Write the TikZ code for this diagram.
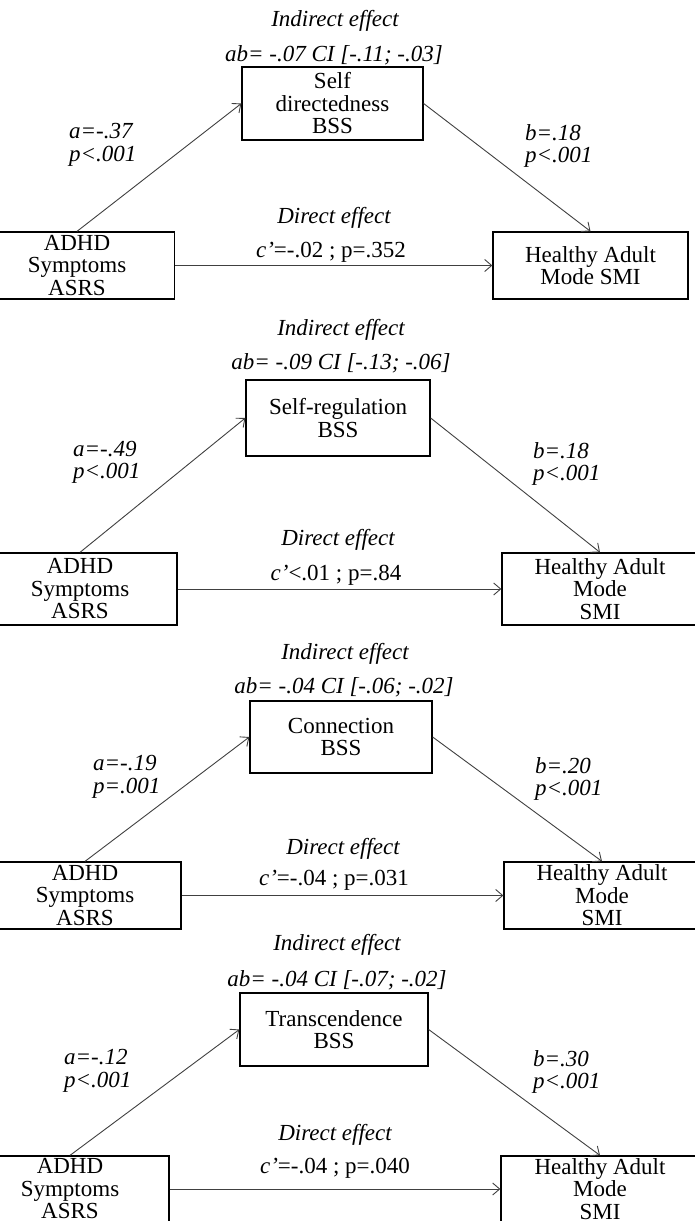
\documentclass[tikz,border=0pt]{standalone}
\usepackage{fontspec}
\setmainfont{Liberation Serif}
\usepackage{tikz}
\usetikzlibrary{arrows.meta}
\tikzset
{
  varbox/.style={draw=black,line width=1.3pt,align=center,inner sep=0pt,font=\fontsize{23}{22.5}\selectfont},
  coef/.style={anchor=west,align=left,inner sep=0pt,font=\fontsize{23}{22.5}\selectfont\itshape},
  efftext/.style={inner sep=0pt,font=\fontsize{23}{22.5}\selectfont\itshape},
  plaintext/.style={inner sep=0pt,font=\fontsize{23}{22.5}\selectfont},
  effect/.style={draw=black!75,line width=0.9pt,-{Straight Barb[length=7pt,width=12pt]}}
}

\begin{document}
\begin{tikzpicture}[x=1pt,y=-1pt]
        \useasboundingbox (0,0) rectangle (694,1221);

        % Panel 1: Self directedness
        \node[varbox,minimum width=195pt,minimum height=67pt] (adhd1) at (77,265.5) {ADHD\\Symptoms\\ASRS};
        \node[varbox,minimum width=181pt,minimum height=73pt] (med1) at (332.5,103.5) {Self\\directedness\\BSS};
        \node[varbox,minimum width=195pt,minimum height=67pt] (ham1) at (590.5,265.5) {Healthy Adult\\Mode SMI};
        \node[efftext] (ind1) at (335,21) {Indirect effect};
        \node[efftext] (ab1) at (334,55) {ab= -.07 CI [-.11; -.03]};
        \node[coef] (a1) at (69,145) {a=-.37\\p<.001};
        \node[coef] (b1) at (525,146) {b=.18\\p<.001};
        \node[efftext] (dir1) at (334,218) {Direct effect};
        \node[plaintext] (c1) at (331,252) {\textit{c'}=-.02 ; p=.352};
        \draw[effect] (adhd1.north) -- (med1.west);
        \draw[effect] (med1.east) -- (ham1.north);
        \draw[effect] (adhd1.east) -- (ham1.west);

        % Panel 2: Self-regulation
        \node[varbox,minimum width=194pt,minimum height=72pt] (adhd2) at (80,589) {ADHD\\Symptoms\\ASRS};
        \node[varbox,minimum width=184pt,minimum height=76pt] (med2) at (338,418) {Self-regulation\\BSS};
        \node[varbox,minimum width=196pt,minimum height=72pt] (ham2) at (600,589) {Healthy Adult\\Mode\\SMI};
        \node[efftext] (ind2) at (341,330) {Indirect effect};
        \node[efftext] (ab2) at (341,363) {ab= -.09 CI [-.13; -.06]};
        \node[coef] (a2) at (73,462.5) {a=-.49\\p<.001};
        \node[coef] (b2) at (533,464) {b=.18\\p<.001};
        \node[efftext] (dir2) at (338,540) {Direct effect};
        \node[plaintext] (c2) at (336,575) {\textit{c'}<.01 ; p=.84};
        \draw[effect] (adhd2.north) -- (med2.west);
        \draw[effect] (med2.east) -- (ham2.north);
        \draw[effect] (adhd2.east) -- (ham2.west);

        % Panel 3: Connection
        \node[varbox,minimum width=192pt,minimum height=67pt] (adhd3) at (85,895.5) {ADHD\\Symptoms\\ASRS};
        \node[varbox,minimum width=182pt,minimum height=72pt] (med3) at (341,737) {Connection\\BSS};
        \node[varbox,minimum width=196pt,minimum height=67pt] (ham3) at (602,895.5) {Healthy Adult\\Mode\\SMI};
        \node[efftext] (ind3) at (345,654) {Indirect effect};
        \node[efftext] (ab3) at (344,687) {ab= -.04 CI [-.06; -.02]};
        \node[coef] (a3) at (93,777) {a=-.19\\p=.001};
        \node[coef] (b3) at (535,779) {b=.20\\p<.001};
        \node[efftext] (dir3) at (343,849) {Direct effect};
        \node[plaintext] (c3) at (334,880) {\textit{c'}=-.04 ; p=.031};
        \draw[effect] (adhd3.north) -- (med3.west);
        \draw[effect] (med3.east) -- (ham3.north);
        \draw[effect] (adhd3.east) -- (ham3.west);

        % Panel 4: Transcendence
        \node[varbox,minimum width=198pt,minimum height=66pt] (adhd4) at (70,1189) {ADHD\\Symptoms\\ASRS};
        \node[varbox,minimum width=188pt,minimum height=73pt] (med4) at (334,1029.5) {Transcendence\\BSS};
        \node[varbox,minimum width=198pt,minimum height=66pt] (ham4) at (600,1189) {Healthy Adult\\Mode\\SMI};
        \node[efftext] (ind4) at (337,945) {Indirect effect};
        \node[efftext] (ab4) at (337,980) {ab= -.04 CI [-.07; -.02]};
        \node[coef] (a4) at (64,1071) {a=-.12\\p<.001};
        \node[coef] (b4) at (533,1072) {b=.30\\p<.001};
        \node[efftext] (dir4) at (335,1135) {Direct effect};
        \node[plaintext] (c4) at (335,1168) {\textit{c'}=-.04 ; p=.040};
        \draw[effect] (adhd4.north) -- (med4.west);
        \draw[effect] (med4.east) -- (ham4.north);
        \draw[effect] (adhd4.east) -- (ham4.west);
    \end{tikzpicture}
\end{document}
